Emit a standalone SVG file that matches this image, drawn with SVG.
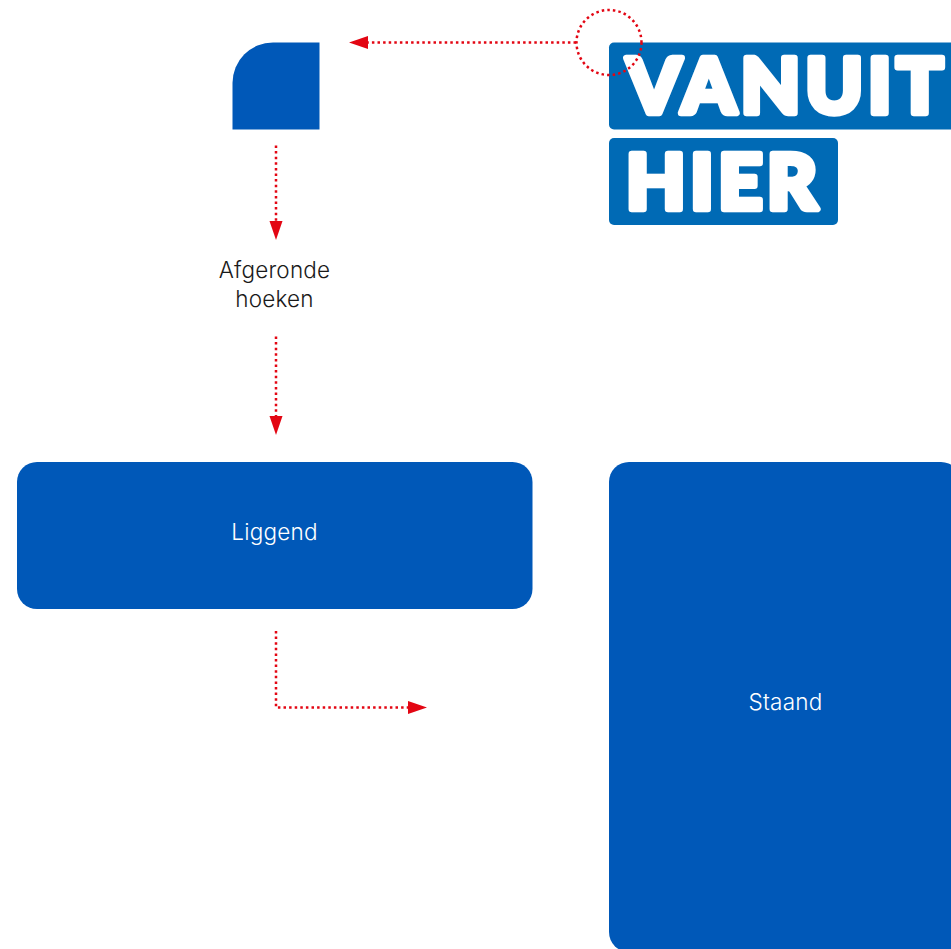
<svg xmlns="http://www.w3.org/2000/svg" width="951" height="949" viewBox="0 0 951 949">
<style>
.blue{fill:#0058b8}
.logo{fill:#006ab5}
.lbl{font-family:"Inter","Liberation Sans",sans-serif;font-weight:300;font-size:22.5px;text-anchor:middle;letter-spacing:.2px}
.logotext{font-family:"Lato","Liberation Sans",sans-serif;font-weight:900;fill:#fff;stroke:#fff;stroke-width:6.500;stroke-linejoin:round;font-size:77px}
.dot{fill:none;stroke:#e30613;stroke-width:2.5;stroke-dasharray:2.5 3.1}
</style>
<defs>
<marker id="arrow" markerUnits="userSpaceOnUse" markerWidth="20" markerHeight="14" refX="0" refY="7" orient="auto"><path d="M0 0.500L19 7L0 13.500Z" fill="#e30613"/></marker>
</defs>
<rect width="951" height="949" fill="#fff"/>
<g id="corner-sample"><path class="blue" d="M232.500 129.500V83A40.500 40.500 0 0 1 273 42.500H319.500V129.500Z"/></g>
<g id="logo">
<rect class="logo" x="609" y="42.500" width="360" height="87" rx="5"/>
<rect class="logo" x="609" y="138" width="229" height="87" rx="5"/>
<text class="logotext" x="627" y="113" textLength="316" lengthAdjust="spacing">VANUIT</text>
<text class="logotext" x="626" y="209" textLength="191" lengthAdjust="spacing">HIER</text>
</g>
<g id="label-afgeronde"><text class="lbl" x="274.500" y="278" fill="#1a1a1a">Afgeronde</text><text class="lbl" x="274.500" y="307" fill="#1a1a1a">hoeken</text></g>
<g id="liggend"><rect class="blue" x="17" y="462" width="515.500" height="147" rx="20"/><text class="lbl" x="274.500" y="540" fill="#fff">Liggend</text></g>
<g id="staand"><rect class="blue" x="609" y="462" width="352" height="490" rx="20"/><text class="lbl" x="785.500" y="710" fill="#fff">Staand</text></g>
<g id="connectors">
<circle class="dot" cx="609" cy="42.500" r="32.500"/>
<path class="dot" d="M576 42.500H368" marker-end="url(#arrow)"/>
<path class="dot" d="M276 145.500V221" marker-end="url(#arrow)"/>
<path class="dot" d="M276 336.500V416" marker-end="url(#arrow)"/>
<path class="dot" d="M276 631V707.500H408" marker-end="url(#arrow)"/>
</g>
</svg>
